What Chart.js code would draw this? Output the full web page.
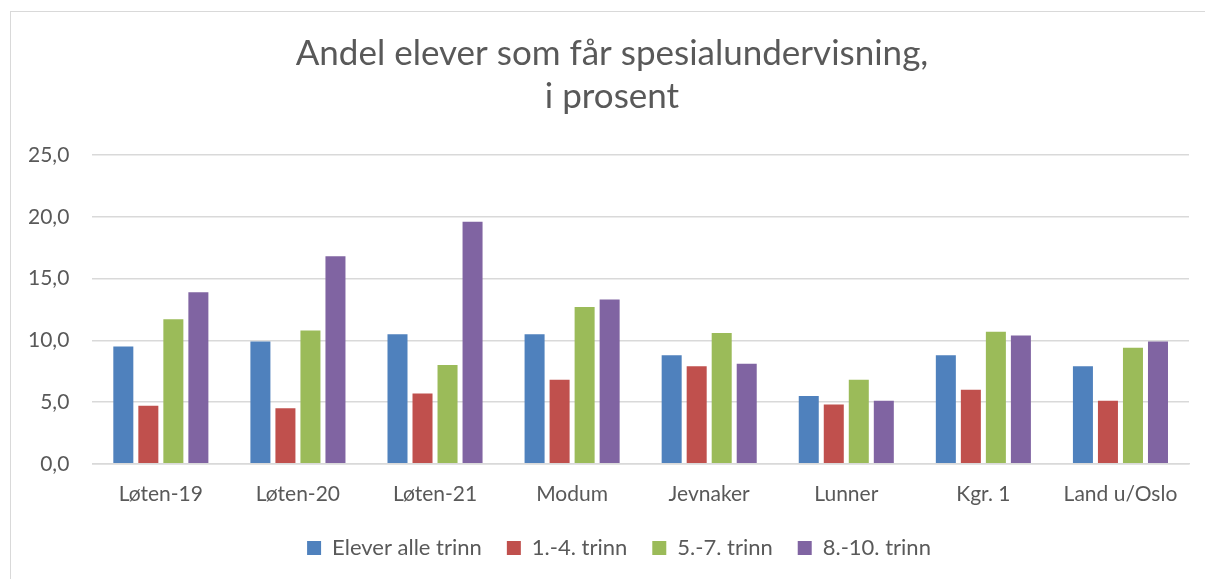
<!DOCTYPE html>
<html>
<head>
<meta charset="utf-8">
<script src="https://cdn.jsdelivr.net/npm/chart.js@4"></script>
<style>
  body { margin: 0; background: #fff; }
  #wrap { position: relative; width: 1205px; height: 579px; overflow: hidden; }
  #frame { position: absolute; left: 10px; top: 11px; width: 1200px; height: 620px; border: 1.5px solid #d9d9d9; }
  canvas { position: absolute; left: 0; top: 0; }
</style>
</head>
<body>
<div id="wrap">
  <div id="frame"></div>
  <canvas id="myChart" width="1205" height="579"></canvas>
</div>
<script>
// Kategorier og verdier (prosent)
const kategorier = ['Løten-19', 'Løten-20', 'Løten-21', 'Modum', 'Jevnaker', 'Lunner', 'Kgr. 1', 'Land u/Oslo'];
const eleverAlleTrinn = [9.5, 9.9, 10.5, 10.5, 8.8, 5.5, 8.8, 7.9];
const trinn1til4 = [4.7, 4.5, 5.7, 6.8, 7.9, 4.8, 6.0, 5.1];
const trinn5til7 = [11.7, 10.8, 8.0, 12.7, 10.6, 6.8, 10.7, 9.4];
const trinn8til10 = [13.9, 16.8, 19.6, 13.3, 8.1, 5.1, 10.4, 9.9];
const tittel = ['Andel elever som får spesialundervisning,', 'i prosent'];

const tekstFarge = '#595959';
const gridFarge = '#d9d9d9';

// flytt tittel og legend litt mot høyre, som i Excel-figuren
const flyttSentrum = {
    id: 'flyttSentrum',
    afterLayout(chart) {
        chart.titleBlock.left += 30;
        chart.legend.left += 44;
    }
};

const ctx = document.getElementById('myChart').getContext('2d');
let chart = new Chart(ctx, {
    type: 'bar',
    data: {
        labels: kategorier,
        datasets: [
            { label: 'Elever alle trinn', data: eleverAlleTrinn, backgroundColor: '#4f81bd' },
            { label: '1.-4. trinn', data: trinn1til4, backgroundColor: '#c0504d' },
            { label: '5.-7. trinn', data: trinn5til7, backgroundColor: '#9bbb59' },
            { label: '8.-10. trinn', data: trinn8til10, backgroundColor: '#8064a2' }
        ]
    },
    plugins: [flyttSentrum],
    options: {
        responsive: false,
        animation: false,
        datasets: {
            bar: { categoryPercentage: 0.73, barPercentage: 0.8 }
        },
        layout: { padding: { left: 5, right: 16, top: 0, bottom: 10 } },
        plugins: {
            title: {
                display: true,
                text: tittel,
                color: tekstFarge,
                font: { family: 'Lato', size: 35, weight: 'normal', lineHeight: 1.23 },
                padding: { top: 32, bottom: 37 }
            },
            legend: {
                position: 'bottom',
                labels: {
                    color: tekstFarge,
                    font: { family: 'Lato', size: 22 },
                    boxWidth: 14,
                    boxHeight: 14,
                    padding: 25
                }
            },
            tooltip: { enabled: false }
        },
        scales: {
            x: {
                grid: { display: false, drawTicks: false },
                border: { color: gridFarge, width: 1.5 },
                ticks: { color: tekstFarge, font: { family: 'Lato', size: 21 }, padding: 18 },
                afterFit: (s) => { s.height -= 13; }
            },
            y: {
                min: 0,
                max: 25,
                grid: { color: gridFarge, lineWidth: 1.5, drawTicks: false },
                border: { display: false },
                ticks: {
                    stepSize: 5,
                    color: tekstFarge,
                    font: { family: 'Lato', size: 21 },
                    padding: 23,
                    callback: (v) => v.toFixed(1).replace('.', ',')
                }
            }
        }
    }
});
</script>
</body>
</html>
